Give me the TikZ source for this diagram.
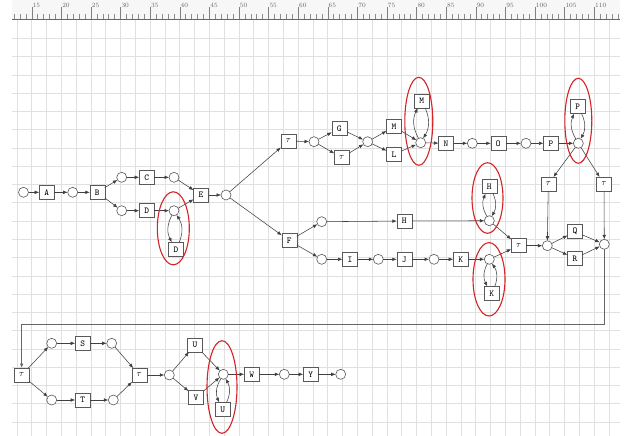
\documentclass[tikz,border=0pt]{standalone}
\usetikzlibrary{arrows.meta}
\definecolor{hlred}{RGB}{212,36,40}
\begin{document}
\begin{tikzpicture}[x=1pt,y=-1pt,
 pl/.style={circle,draw=black!65,line width=0.6pt,minimum size=10pt,inner sep=0pt,outer sep=0pt,fill=white},
 tr/.style={rectangle,draw=black!65,line width=0.6pt,minimum width=15pt,minimum height=14pt,inner sep=0pt,outer sep=0pt,fill=white,font=\fontsize{9}{9}\selectfont\ttfamily},
 arc/.style={draw=black!75,line width=0.55pt,-{Latex[length=4.5pt,width=3.6pt]}},
 hl/.style={draw=hlred,line width=1.1pt},
 gridln/.style={draw=black!12,line width=0.5pt}]
\useasboundingbox (0,0) rectangle (629,436);
\fill[white] (0,0) rectangle (629,436);
% ruler and grid
\fill[black!3] (12,0) rectangle (620,19.5);
\foreach \k in {-1,...,39} { \pgfmathsetmacro\xx{31.7+14.8*\k} \draw[gridln] (\xx,20) -- (\xx,436); }
\foreach \k in {1,...,22} { \pgfmathsetmacro\yy{20+18.27*\k} \draw[gridln] (12,\yy) -- (620,\yy); }
\foreach \u in {12,...,114} {
  \pgfmathsetmacro\xx{31.7+5.92*(\u-15)}
  \pgfmathtruncatemacro\m{mod(\u,5)}
  \ifnum\m=0 \draw[black!50,line width=0.4pt] (\xx,19.5) -- (\xx,7);
  \else \draw[black!45,line width=0.4pt] (\xx,19.5) -- (\xx,14.5); \fi
}
\foreach \u in {15,20,...,110} {
  \pgfmathsetmacro\xx{31.7+5.92*(\u-15)+0.8}
  \node[anchor=north west,inner sep=0pt,font=\fontsize{6.5}{6.5}\selectfont,text=black!60] at (\xx,3) {\u};
}
\draw[black!60,line width=0.8pt] (12,19.5) -- (620,19.5);
% places
\node[pl] (p1) at (23.5,192.3) {};
\node[pl] (p2) at (72.7,192.3) {};
\node[pl] (p3) at (121.7,177.3) {};
\node[pl] (p4) at (174,177.3) {};
\node[pl] (p5) at (121.7,210.7) {};
\node[pl] (p6) at (174,210.7) {};
\node[pl] (p7) at (226,195) {};
\node[pl] (p8) at (314,141.7) {};
\node[pl] (p9) at (367.7,141.7) {};
\node[pl] (p10) at (420.7,142.7) {};
\node[pl] (p11) at (472.3,143.3) {};
\node[pl] (p12) at (526,143.3) {};
\node[pl] (p13) at (578.3,143.3) {};
\node[pl] (p14) at (321.7,221.7) {};
\node[pl] (p15) at (489.3,220.7) {};
\node[pl] (p16) at (321.7,259.3) {};
\node[pl] (p17) at (378.3,259.3) {};
\node[pl] (p18) at (434,259.3) {};
\node[pl] (p19) at (489.3,259.3) {};
\node[pl] (p20) at (547.3,245.7) {};
\node[pl] (p21) at (604.3,244.3) {};
\node[pl] (p22) at (51.7,343.3) {};
\node[pl] (p23) at (111.7,343.3) {};
\node[pl] (p24) at (51.7,400) {};
\node[pl] (p25) at (113.3,400) {};
\node[pl] (p26) at (169.3,375) {};
\node[pl] (p27) at (223.3,374.3) {};
\node[pl] (p28) at (284.3,374.3) {};
\node[pl] (p29) at (340.7,374.3) {};
% transitions
\node[tr] (A) at (46.7,192.3) {A};
\node[tr] (B) at (97.3,192.3) {B};
\node[tr] (C) at (146.7,177.3) {C};
\node[tr] (D) at (146.7,210.7) {D};
\node[tr] (Dl) at (176,249.3) {D};
\node[tr] (E) at (201,195) {E};
\node[tr] (t1) at (288.3,141) {$\tau$};
\node[tr] (G) at (339.3,128.3) {G};
\node[tr] (t2) at (341.7,157.7) {$\tau$};
\node[tr] (M) at (394,126.7) {M};
\node[tr] (L) at (394,154.3) {L};
\node[tr] (Ml) at (421.7,101) {M};
\node[tr] (N) at (446,143.3) {N};
\node[tr] (O) at (498.3,143.3) {O};
\node[tr] (P) at (551,143.3) {P};
\node[tr] (Pl) at (577.7,106.7) {P};
\node[tr] (t3) at (548.3,184) {$\tau$};
\node[tr] (t4) at (604,184) {$\tau$};
\node[tr] (F) at (289.3,240.7) {F};
\node[tr] (H) at (404.3,221) {H};
\node[tr] (Hl) at (489.3,186.7) {H};
\node[tr] (I) at (350,259.3) {I};
\node[tr] (J) at (404.3,259.3) {J};
\node[tr] (K) at (460.7,259.3) {K};
\node[tr] (Kl) at (491.7,293.3) {K};
\node[tr] (t5) at (518.7,245.7) {$\tau$};
\node[tr] (Q) at (575,231.7) {Q};
\node[tr] (R) at (575,258.3) {R};
\node[tr] (t6) at (21.7,375) {$\tau$};
\node[tr] (S) at (82.7,343.3) {S};
\node[tr] (T) at (82.7,400) {T};
\node[tr] (t7) at (139.3,375) {$\tau$};
\node[tr] (U) at (195,345) {U};
\node[tr] (V) at (196,397.3) {V};
\node[tr] (Ul) at (222.7,409.3) {U};
\node[tr] (W) at (251.7,374.3) {W};
\node[tr] (Y) at (310.7,374.3) {Y};
% arcs
\foreach \a/\b in {p1/A,A/p2,p2/B,B/p3,p3/C,C/p4,p4/E,B/p5,p5/D,D/p6,p6/E,E/p7,
  p7/t1,p7/F,t1/p8,p8/G,p8/t2,G/p9,t2/p9,p9/M,p9/L,M/p10,L/p10,p10/N,N/p11,p11/O,O/p12,P/p13,p12/P,
  p13/t3,p13/t4,t3/p20,t4/p21,F/p14,F/p16,p14/H,H/p15,p16/I,I/p17,p17/J,J/p18,p18/K,K/p19,
  p15/t5,p19/t5,t5/p20,p20/Q,p20/R,Q/p21,R/p21,
  t6/p22,t6/p24,p22/S,S/p23,p23/t7,p24/T,T/p25,p25/t7,t7/p26,p26/U,p26/V,U/p27,V/p27,p27/W,W/p28,p28/Y,Y/p29}
  {\draw[arc] (\a) -- (\b);}
% loops
\draw[arc] (p6) to[bend right=28] (Dl);
\draw[arc] (Dl) to[bend right=28] (p6);
\draw[arc] (p19) to[bend right=28] (Kl);
\draw[arc] (Kl) to[bend right=28] (p19);
\draw[arc] (p27) to[bend right=28] (Ul);
\draw[arc] (Ul) to[bend right=28] (p27);
\draw[arc] (p10) to[bend left=28] (Ml);
\draw[arc] (Ml) to[bend left=28] (p10);
\draw[arc] (p13) to[bend left=28] (Pl);
\draw[arc] (Pl) to[bend left=28] (p13);
\draw[arc] (p15) to[bend left=28] (Hl);
\draw[arc] (Hl) to[bend left=28] (p15);
% feedback
\coordinate (c1) at (21.7,324);
\draw[arc,draw=black!60,line width=0.9pt] (p21) |- (c1) -- (t6);
% highlights
\draw[hl] (173.3,228.3) ellipse [x radius=16, y radius=36.5];
\draw[hl] (418.8,121.3) ellipse [x radius=14, y radius=44];
\draw[hl] (578.3,120.8) ellipse [x radius=13.5, y radius=42.5];
\draw[hl] (487.5,198) ellipse [x radius=15.5, y radius=35.3];
\draw[hl] (489,279.3) ellipse [x radius=16, y radius=36.7];
\draw[hl] (222,387) ellipse [x radius=15, y radius=46.3];
\end{tikzpicture}
\end{document}
